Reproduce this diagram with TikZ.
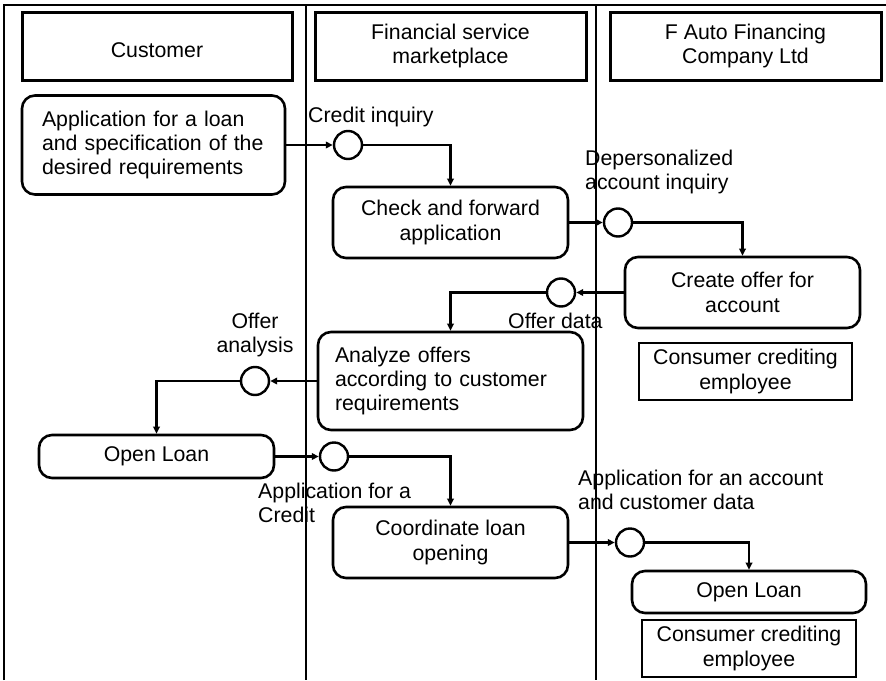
\documentclass[tikz,border=0pt]{standalone}
\usepackage{fontspec}
\setmainfont{Liberation Sans}
\usetikzlibrary{arrows.meta}
\begin{document}
\begin{tikzpicture}[x=1pt,y=-1pt,
  every node/.style={font=\fontsize{21.3}{24.3}\selectfont, inner sep=0pt},
  lane/.style={line width=1.5pt},
  header/.style={draw, line width=3pt, minimum width=271pt, minimum height=68pt, align=center},
  task/.style={draw, line width=2.6pt, rounded corners=13pt, minimum width=235pt, minimum height=71pt, align=center},
  role/.style={draw, line width=1.2pt, minimum width=213pt, minimum height=57pt, align=center},
  event/.style={draw, circle, line width=2.4pt, minimum size=28pt},
  flow/.style={line width=2.4pt, -{Triangle[length=7pt,width=6.5pt]}},
  tag/.style={align=left, anchor=north west}
]
\useasboundingbox (0,0) rectangle (886,680);

% swimlane frame and dividers
\coordinate (frameBL) at (4,680);
\coordinate (frameTL) at (4,5);
\coordinate (frameTR) at (886,5);
\coordinate (laneAtop) at (306,5);
\coordinate (laneAbot) at (306,680);
\coordinate (laneBtop) at (596,5);
\coordinate (laneBbot) at (596,680);
\draw[lane] (frameBL) -- (frameTL) -- (frameTR);
\draw[lane] (laneAtop) -- (laneAbot);
\draw[lane] (laneBtop) -- (laneBbot);

% lane headers
\node[header, minimum width=270pt, text height=22pt, text depth=-3pt] (hCust) at (157,46) {Customer};
\node[header] (hMarket) at (450.5,46) {Financial service\\marketplace};
\node[header] (hAuto) at (745.5,46) {F Auto Financing\\Company Ltd};

% tasks
\node[task, minimum width=263pt, minimum height=99pt, text width=223pt, align=left] (app) at (153.5,145)
  {Application for a loan\\and specification of the\\desired requirements};
\node[task] (check) at (450.5,222.5) {Check and forward\\application};
\node[task] (create) at (742.5,292.5) {Create offer for\\account};
\node[task, minimum width=265pt, minimum height=98pt, text width=231pt, align=left] (analyze) at (450.5,381)
  {Analyze offers\\according to customer\\requirements};
\node[task, minimum height=43pt] (openC) at (156.5,456.5) {Open Loan};
\node[task] (coord) at (450.5,542.5) {Coordinate loan\\opening};
\node[task, minimum width=234pt, minimum height=42pt] (openA) at (749,592) {Open Loan};

% roles
\node[role] (emp1) at (745.5,371.5) {Consumer crediting\\employee};
\node[role, minimum width=214pt] (emp2) at (749,648.5) {Consumer crediting\\employee};

% events
\node[event] (c1) at (348,145) {};
\node[event] (c2) at (618,222.5) {};
\node[event] (c3) at (561,292.5) {};
\node[event] (c4) at (255,381) {};
\node[event] (c5) at (334,456.5) {};
\node[event] (c6) at (630,542.5) {};

% event labels
\node[tag] (l1) at (308,107) {Credit inquiry};
\node[tag] (l2) at (585,150) {Depersonalized\\account inquiry};
\node[tag] (l3) at (508,313) {Offer data};
\node[align=center, anchor=north] (l4) at (255,313) {Offer\\analysis};
\node[tag] (l5) at (258,483) {Application for a\\Credit};
\node[tag] (l6) at (578,470) {Application for an account\\and customer data};

% flows
\draw[flow] (app) -- (c1);
\draw[flow] (c1) -| (check);
\draw[flow] (check) -- (c2);
\draw[flow] (c2) -| (create);
\draw[flow] (create) -- (c3);
\draw[flow] (c3) -| (analyze);
\draw[flow] (analyze) -- (c4);
\draw[flow] (c4) -| (openC);
\draw[flow] (openC) -- (c5);
\draw[flow] (c5) -| (coord);
\draw[flow] (coord) -- (c6);
\draw[flow] (c6) -| (openA);
\end{tikzpicture}
\end{document}
